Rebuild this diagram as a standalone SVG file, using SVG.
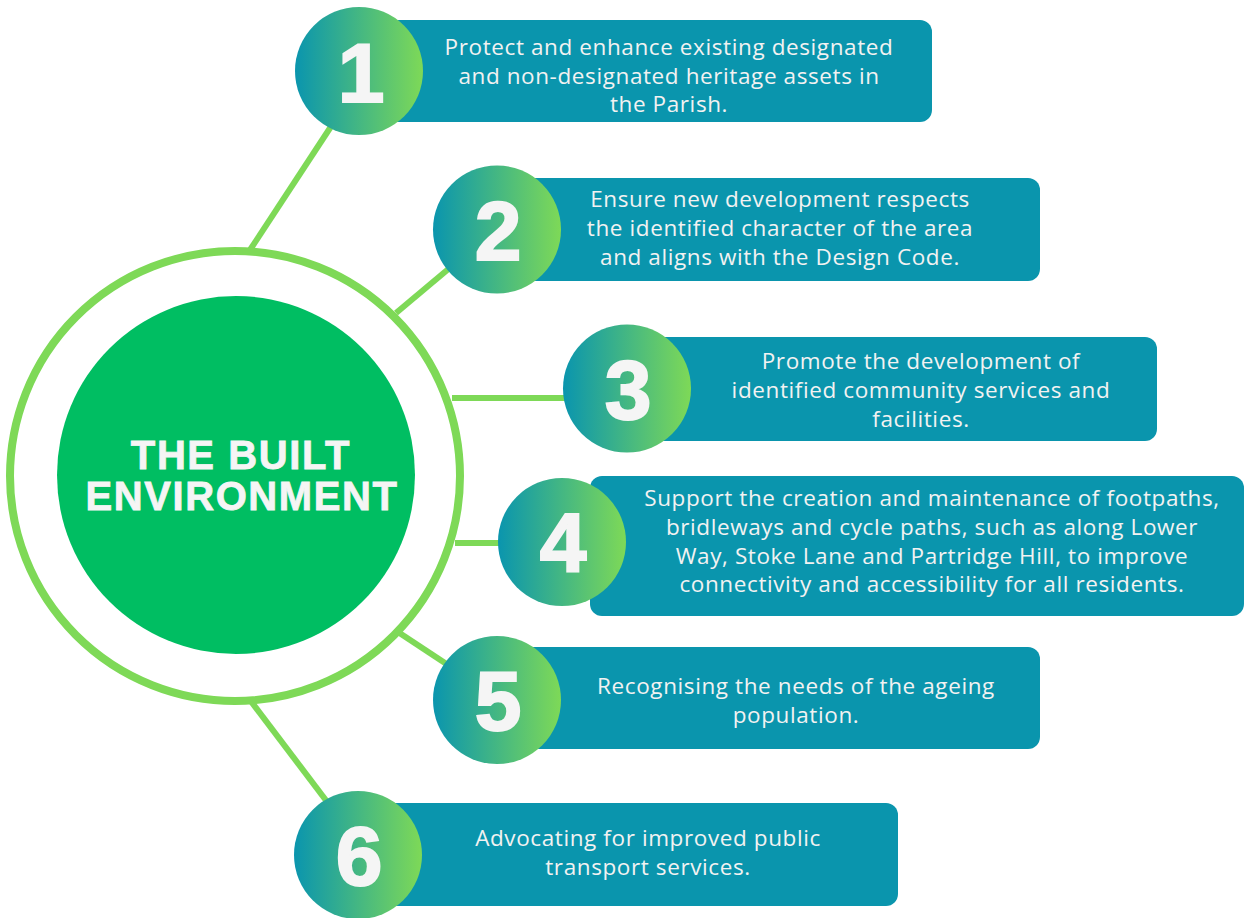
<svg xmlns="http://www.w3.org/2000/svg" width="1244" height="918" viewBox="0 0 1244 918">
  <defs>
    <linearGradient id="numGrad" x1="0" y1="0" x2="1" y2="0">
      <stop offset="0" stop-color="#0A95AE"/>
      <stop offset="1" stop-color="#7ED957"/>
    </linearGradient>
    <style>
      .link { stroke: #7ED957; stroke-width: 6; fill: none; }
      .box { fill: #0A95AD; }
      .num-bg { fill: url(#numGrad); }
      .num { font-family: "Liberation Sans", Arial, sans-serif; font-weight: 700; font-size: 84px; fill: #F5F5F5; stroke: #F5F5F5; stroke-width: 2; text-anchor: middle; }
      .desc { font-family: "Open Sans", "Liberation Sans", sans-serif; font-size: 22.5px; letter-spacing: 0.6px; fill: #F2F2F2; text-anchor: middle; }
      .title { font-family: "Liberation Sans", Arial, sans-serif; font-weight: 700; font-size: 40px; fill: #F5F5F5; stroke: #F5F5F5; stroke-width: 0.8; text-anchor: middle; letter-spacing: 1.6px; }
    </style>
  </defs>

  <rect width="1244" height="918" fill="#FFFFFF"/>

  <!-- spokes from the hub ring to each numbered item -->
  <g id="connectors">
    <line class="link" x1="250" y1="250" x2="332" y2="125"/>
    <line class="link" x1="396" y1="313" x2="452" y2="266"/>
    <line class="link" x1="452" y1="398" x2="570" y2="398"/>
    <line class="link" x1="455" y1="543" x2="505" y2="543"/>
    <line class="link" x1="398" y1="632" x2="448" y2="665"/>
    <line class="link" x1="250" y1="700" x2="328" y2="803"/>
  </g>

  <!-- central hub -->
  <g id="hub">
    <circle cx="235" cy="476" r="225" fill="#FFFFFF" stroke="#7ED957" stroke-width="8"/>
    <circle cx="236" cy="475" r="179" fill="#00BE62"/>
    <text class="title" x="241" y="469">THE BUILT</text>
    <text class="title" x="242" y="510">ENVIRONMENT</text>
  </g>

  <g id="item1">
    <rect class="box" x="380" y="20" width="552" height="102" rx="12"/>
    <circle class="num-bg" cx="359" cy="71" r="64"/>
    <text class="num" x="361" y="102">1</text>
    <text class="desc" x="669" y="55">Protect and enhance existing designated</text>
    <text class="desc" x="669" y="84">and non-designated heritage assets in</text>
    <text class="desc" x="669" y="112">the Parish.</text>
  </g>

  <g id="item2">
    <rect class="box" x="520" y="178" width="520" height="103" rx="12"/>
    <circle class="num-bg" cx="497" cy="229.5" r="64"/>
    <text class="num" x="498" y="260">2</text>
    <text class="desc" x="780" y="207">Ensure new development respects</text>
    <text class="desc" x="780" y="236">the identified character of the area</text>
    <text class="desc" x="780" y="265">and aligns with the Design Code.</text>
  </g>

  <g id="item3">
    <rect class="box" x="650" y="337" width="507" height="104" rx="12"/>
    <circle class="num-bg" cx="627" cy="388.5" r="64"/>
    <text class="num" x="628" y="419">3</text>
    <text class="desc" x="921" y="369">Promote the development of</text>
    <text class="desc" x="921" y="398">identified community services and</text>
    <text class="desc" x="921" y="427">facilities.</text>
  </g>

  <g id="item4">
    <rect class="box" x="590" y="476" width="654" height="140" rx="12"/>
    <circle class="num-bg" cx="562" cy="542" r="64"/>
    <text class="num" x="563" y="572">4</text>
    <text class="desc" x="932" y="506">Support the creation and maintenance of footpaths,</text>
    <text class="desc" x="932" y="535">bridleways and cycle paths, such as along Lower</text>
    <text class="desc" x="932" y="564">Way, Stoke Lane and Partridge Hill, to improve</text>
    <text class="desc" x="932" y="592">connectivity and accessibility for all residents.</text>
  </g>

  <g id="item5">
    <rect class="box" x="520" y="647" width="520" height="102" rx="12"/>
    <circle class="num-bg" cx="497" cy="700" r="64"/>
    <text class="num" x="498" y="730">5</text>
    <text class="desc" x="796" y="694">Recognising the needs of the ageing</text>
    <text class="desc" x="796" y="723">population.</text>
  </g>

  <g id="item6">
    <rect class="box" x="380" y="803" width="518" height="103" rx="12"/>
    <circle class="num-bg" cx="358" cy="855" r="64"/>
    <text class="num" x="359" y="885">6</text>
    <text class="desc" x="648" y="846">Advocating for improved public</text>
    <text class="desc" x="648" y="875">transport services.</text>
  </g>
</svg>
